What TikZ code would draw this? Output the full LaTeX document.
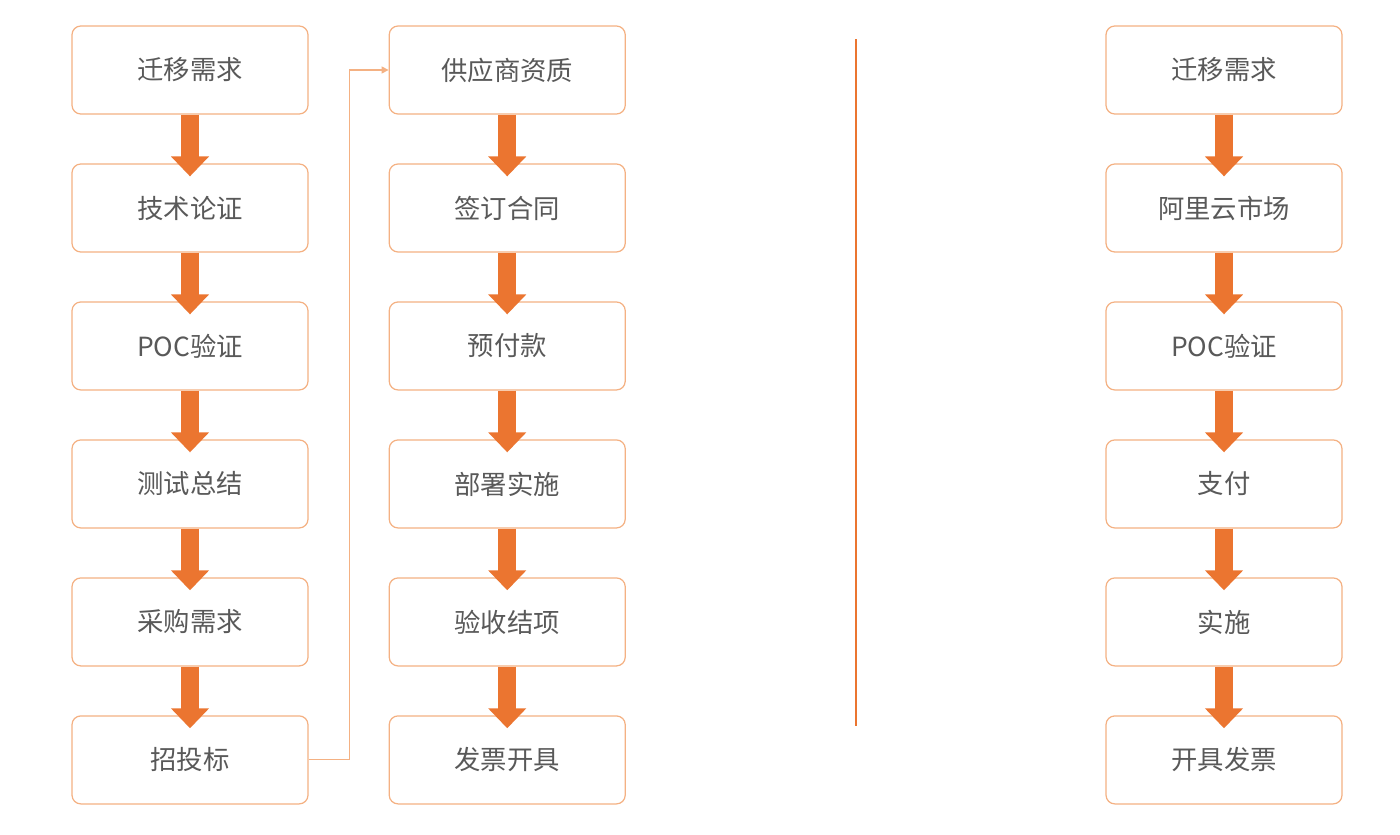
\documentclass[tikz,border=0pt]{standalone}
\usepackage{fontspec}
\setmainfont{Noto Sans CJK SC}
\usepackage{tikz}
\usetikzlibrary{arrows.meta,positioning,calc}
\definecolor{BoxLine}{HTML}{F4B183}
\definecolor{FlowOrange}{HTML}{EB7530}
\definecolor{TextGray}{HTML}{595959}
\tikzset{
  stepbox/.style={rectangle,rounded corners=5pt,draw=BoxLine,line width=0.7pt,
                  fill=white,minimum width=4.72cm,minimum height=1.76cm,
                  text=TextGray,align=center,font=\fontsize{15}{17}\selectfont},
  flow/.style={draw=FlowOrange,line width=0.36cm,
               -{Triangle[width=0.74cm,length=0.4cm]}},
  link/.style={draw=BoxLine,line width=0.6pt,-{Triangle[length=4pt,width=4pt]}},
  divider/.style={draw=FlowOrange,line width=1.6pt}
}

\begin{document}
\begin{tikzpicture}[node distance=0.975cm and 1.6cm]
  \useasboundingbox (0,0) rectangle (28,-16.68);

  % traditional purchase, first column
  \node[stepbox] (l1) at (3.8,-1.4) {迁移需求};
  \node[stepbox,below=of l1] (l2) {技术论证};
  \node[stepbox,below=of l2] (l3) {POC验证};
  \node[stepbox,below=of l3] (l4) {测试总结};
  \node[stepbox,below=of l4] (l5) {采购需求};
  \node[stepbox,below=of l5] (l6) {招投标};

  % second column
  \node[stepbox,right=of l1] (m1) {供应商资质};
  \node[stepbox,below=of m1] (m2) {签订合同};
  \node[stepbox,below=of m2] (m3) {预付款};
  \node[stepbox,below=of m3] (m4) {部署实施};
  \node[stepbox,below=of m4] (m5) {验收结项};
  \node[stepbox,below=of m5] (m6) {发票开具};

  % market purchase
  \node[stepbox] (r1) at (24.48,-1.4) {迁移需求};
  \node[stepbox,below=of r1] (r2) {阿里云市场};
  \node[stepbox,below=of r2] (r3) {POC验证};
  \node[stepbox,below=of r3] (r4) {支付};
  \node[stepbox,below=of r4] (r5) {实施};
  \node[stepbox,below=of r5] (r6) {开具发票};

  \draw[flow] (l1.south) -- ($(l2.north)+(0,-0.26)$);
  \draw[flow] (l2.south) -- ($(l3.north)+(0,-0.26)$);
  \draw[flow] (l3.south) -- ($(l4.north)+(0,-0.26)$);
  \draw[flow] (l4.south) -- ($(l5.north)+(0,-0.26)$);
  \draw[flow] (l5.south) -- ($(l6.north)+(0,-0.26)$);

  \draw[flow] (m1.south) -- ($(m2.north)+(0,-0.26)$);
  \draw[flow] (m2.south) -- ($(m3.north)+(0,-0.26)$);
  \draw[flow] (m3.south) -- ($(m4.north)+(0,-0.26)$);
  \draw[flow] (m4.south) -- ($(m5.north)+(0,-0.26)$);
  \draw[flow] (m5.south) -- ($(m6.north)+(0,-0.26)$);

  \draw[flow] (r1.south) -- ($(r2.north)+(0,-0.26)$);
  \draw[flow] (r2.south) -- ($(r3.north)+(0,-0.26)$);
  \draw[flow] (r3.south) -- ($(r4.north)+(0,-0.26)$);
  \draw[flow] (r4.south) -- ($(r5.north)+(0,-0.26)$);
  \draw[flow] (r5.south) -- ($(r6.north)+(0,-0.26)$);

  \draw[link] (l6.east) -- ++(0.82,0) |- (m1.west);

  \draw[divider] (17.12,-0.78) -- (17.12,-14.52);
\end{tikzpicture}
\end{document}
